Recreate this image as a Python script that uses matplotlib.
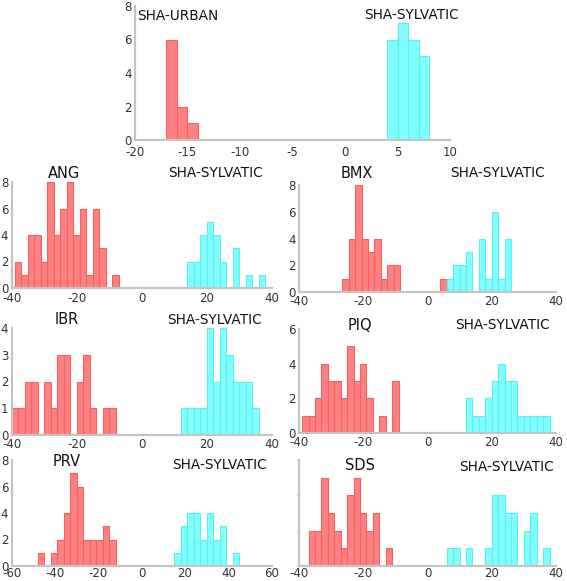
import matplotlib
matplotlib.use("Agg")
import matplotlib.pyplot as plt
import numpy as np

plt.rcParams["axes.unicode_minus"] = False

# ---- data: (start of first bin, bin width, counts) ----
urban_start, urban_width = -17, 1
urban_counts = [6, 2, 1]
sylv0_start, sylv0_width = 4, 1
sylv0_counts = [6, 7, 6, 5]

ang_start = -39
ang_counts = [2, 1, 4, 4, 2, 8, 4, 6, 8, 4, 6, 1, 6, 3, 0, 1]
ang_syl_start = 14
ang_syl_counts = [2, 2, 4, 5, 4, 2, 0, 3, 0, 1, 0, 1]

bmx_start = -26.5
bmx_counts = [1, 4, 8, 4, 3, 4, 1, 2, 2]
bmx_extra_start = 4
bmx_extra_counts = [1]
bmx_syl_start = 6
bmx_syl_counts = [1, 2, 2, 3, 0, 4, 1, 6, 1, 4]

ibr_start = -40
ibr_counts = [1, 1, 2, 2, 0, 2, 1, 3, 3, 0, 2, 3, 1, 0, 1, 1]
ibr_syl_start = 12
ibr_syl_counts = [1, 1, 1, 1, 4, 2, 4, 3, 2, 2, 2, 1]

piq_start = -39
piq_counts = [1, 1, 2, 4, 3, 3, 2, 5, 3, 4, 2, 0, 1, 0, 3]
piq_syl_start = 12
piq_syl_counts = [2, 1, 1, 2, 3, 4, 3, 3, 1, 1, 1, 1, 1]

prv_start, prv_width = -48, 3
prv_counts = [1, 0, 1, 2, 4, 7, 6, 2, 2, 2, 3, 2]
prv_syl_start = 15
prv_syl_counts = [1, 3, 4, 4, 2, 4, 2, 3, 0, 1]

sds_start = -37
sds_counts = [2, 2, 5, 3, 2, 1, 4, 5, 3, 2, 3, 0, 1]
sds_syl_start = 6
sds_syl_counts = [1, 1, 0, 1, 0, 0, 1, 4, 4, 3, 3, 0, 2, 3, 0, 1]

panel_names = ["ANG", "BMX", "IBR", "PIQ", "PRV", "SDS"]
syl_label = "SHA-SYLVATIC"
urban_label = "SHA-URBAN"

RED_FACE = "#ff8080"
RED_EDGE = "#f06464"
CYAN_FACE = "#80ffff"
CYAN_EDGE = "#5cf0f0"
SPINE = "#c4c4c4"
TICKC = "#333333"
TICK_FS = 8.5
LAB_FS = 9.8

W, H = 567, 581
fig = plt.figure(figsize=(W / 100, H / 100), dpi=100)


def axes_px(x0, x1, ytop, ybot):
    return fig.add_axes([x0 / W, 1 - ybot / H, (x1 - x0) / W, (ybot - ytop) / H])


def bars(ax, start, width, counts, face, edge):
    counts = np.asarray(counts, dtype=float)
    lefts = start + width * np.arange(len(counts))
    mask = counts > 0
    ax.bar(lefts[mask], counts[mask], width=width, align="edge",
           color=face, edgecolor=edge, linewidth=0.8)


def style(ax, xlim, ylim, xticks, yticks, ylabels=True, xpad=3.0):
    ax.set_xlim(*xlim)
    ax.set_ylim(*ylim)
    ax.set_xticks(xticks)
    ax.set_yticks(yticks)
    for s in ("top", "right"):
        ax.spines[s].set_visible(False)
    for s in ("left", "bottom"):
        ax.spines[s].set_color(SPINE)
        ax.spines[s].set_linewidth(1.6)
    ax.tick_params(axis="both", length=0, labelsize=TICK_FS, labelcolor=TICKC)
    ax.tick_params(axis="x", pad=xpad)
    ax.tick_params(axis="y", pad=2.5)
    if not ylabels:
        ax.set_yticklabels([])
        ax.tick_params(axis="y", length=1.5, color="#888888")
    ax.patch.set_alpha(0)


# ---- top panel ----
ax0 = axes_px(135, 450, 6, 140)
bars(ax0, urban_start, urban_width, urban_counts, RED_FACE, RED_EDGE)
bars(ax0, sylv0_start, sylv0_width, sylv0_counts, CYAN_FACE, CYAN_EDGE)
style(ax0, (-20, 10), (0, 8), [-20, -15, -10, -5, 0, 5, 10], [0, 2, 4, 6, 8], xpad=4.0)
fig.text(137 / W, 1 - 16 / H, urban_label, fontsize=LAB_FS, va="center", ha="left", color="#111111")
fig.text(459 / W, 1 - 15 / H, syl_label, fontsize=LAB_FS, va="center", ha="right", color="#111111")

# ---- lower panels ----
LX = (11.7, 271.7)
RX = (299, 556)
panels = [
    ("ANG", LX, 182, 288, (-40, 40), [-40, -20, 0, 20, 40], 8, [0, 2, 4, 6, 8],
     [(ang_start, 2, ang_counts, "r"), (ang_syl_start, 2, ang_syl_counts, "c")],
     (64, 173), (215, 173), True, 3.0),
    ("BMX", RX, 185, 292, (-40, 40), [-40, -20, 0, 20, 40], 8, [0, 2, 4, 6, 8],
     [(bmx_start, 2, bmx_counts, "r"), (bmx_extra_start, 2, bmx_extra_counts, "r"),
      (bmx_syl_start, 2, bmx_syl_counts, "c")],
     (357, 173), (497, 173), True, 2.0),
    ("IBR", LX, 328, 435, (-40, 40), [-40, -20, 0, 20, 40], 4, [0, 1, 2, 3, 4],
     [(ibr_start, 2, ibr_counts, "r"), (ibr_syl_start, 2, ibr_syl_counts, "c")],
     (67, 320), (214, 320), True, 2.0),
    ("PIQ", RX, 329, 433, (-40, 40), [-40, -20, 0, 20, 40], 6, [0, 2, 4, 6],
     [(piq_start, 2, piq_counts, "r"), (piq_syl_start, 2, piq_syl_counts, "c")],
     (360, 325), (502, 325), True, 2.0),
    ("PRV", LX, 460, 566, (-60, 60), [-60, -40, -20, 0, 20, 40, 60], 8, [0, 2, 4, 6, 8],
     [(prv_start, prv_width, prv_counts, "r"), (prv_syl_start, prv_width, prv_syl_counts, "c")],
     (67, 462), (219, 465), True, 1.0),
    ("SDS", RX, 460, 566, (-40, 40), [-40, -20, 0, 20, 40], 6, [0, 2, 4, 6],
     [(sds_start, 2, sds_counts, "r"), (sds_syl_start, 2, sds_syl_counts, "c")],
     (360, 465), (506, 467), False, 1.0),
]

for (name, xp, yt, yb, xlim, xticks, ymax, yticks, series, lpos, spos, ylab, xpad) in panels:
    ax = axes_px(xp[0], xp[1], yt, yb)
    for start, width, counts, kind in series:
        if kind == "r":
            bars(ax, start, width, counts, RED_FACE, RED_EDGE)
        else:
            bars(ax, start, width, counts, CYAN_FACE, CYAN_EDGE)
    style(ax, xlim, (0, ymax), xticks, yticks, ylabels=ylab, xpad=xpad)
    fig.text(lpos[0] / W, 1 - lpos[1] / H, name, fontsize=10.5, ha="center", va="center", color="#111111")
    fig.text(spos[0] / W, 1 - spos[1] / H, syl_label, fontsize=LAB_FS, ha="center", va="center", color="#111111")

fig.savefig("out.png", dpi=100)
